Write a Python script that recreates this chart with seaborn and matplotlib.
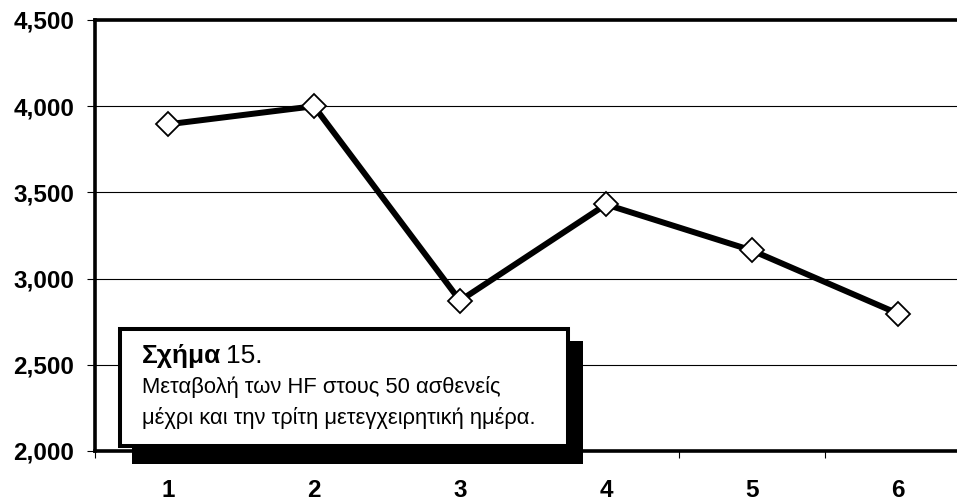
import matplotlib
matplotlib.use("Agg")
import matplotlib.pyplot as plt
import matplotlib.patches as mpatches
from matplotlib.ticker import FuncFormatter, FixedLocator
import seaborn as sns
import pandas as pd

# Postoperative HF measurements per time point
days = ["1", "2", "3", "4", "5", "6"]
hf_values = [3895, 4000, 2872, 3430, 3163, 2797]
y_ticks = [2000, 2500, 3000, 3500, 4000, 4500]

caption_title_bold = "Σχήμα"
caption_title_num = "15."
caption_lines = ["Μεταβολή των HF στους 50 ασθενείς",
                 "μέχρι και την τρίτη μετεγχειρητική ημέρα."]

sns.set_theme(style="white")
plt.rcParams["font.family"] = ["Liberation Sans", "DejaVu Sans"]

W, H = 957, 504
fig = plt.figure(figsize=(W / 100, H / 100), dpi=100)
fig.patch.set_facecolor("white")

# axes frame in pixels: left 95, top 20, bottom 451, right runs past the canvas
left_px, top_px, bottom_px, right_px = 95, 20, 451, 971
ax = fig.add_axes([left_px / W, 1 - bottom_px / H,
                   (right_px - left_px) / W, (bottom_px - top_px) / H])

df = pd.DataFrame({"pos": range(len(days)), "hf": hf_values})
sns.lineplot(data=df, x="pos", y="hf", ax=ax, color="black", linewidth=4.3,
             marker="D", markersize=12.5, markerfacecolor="white",
             markeredgecolor="black", markeredgewidth=1.3, zorder=3)

ax.set_xlim(-0.5, len(days) - 0.5)
ax.set_ylim(y_ticks[0], y_ticks[-1])
ax.set_xlabel("")
ax.set_ylabel("")

ax.yaxis.set_major_locator(FixedLocator(y_ticks))
ax.yaxis.set_major_formatter(FuncFormatter(lambda v, p: f"{int(v):,}"))
ax.set_xticks(range(len(days)))
ax.set_xticklabels(days)
ax.set_xticks([i - 0.5 for i in range(len(days) + 1)], minor=True)

ax.grid(axis="y", color="black", linewidth=0.8)
ax.grid(axis="x", visible=False)
ax.set_axisbelow(True)

ax.tick_params(axis="y", which="major", left=True, length=6, width=0.8,
               color="black", pad=9, labelsize=17.5, labelcolor="black")
ax.tick_params(axis="x", which="major", bottom=False, length=0, pad=20,
               labelsize=17.5, labelcolor="black")
ax.tick_params(axis="x", which="minor", bottom=True, length=5, width=0.8,
               color="black")
for lbl in ax.get_xticklabels() + ax.get_yticklabels():
    lbl.set_fontweight("bold")

for side in ["left", "top", "bottom"]:
    ax.spines[side].set_visible(True)
    ax.spines[side].set_color("black")
    ax.spines[side].set_linewidth(2.6)
ax.spines["right"].set_visible(False)


def fx(px):
    return px / W


def fy(py):
    return 1 - py / H


# caption box with drop shadow
shadow = mpatches.Rectangle((fx(132), fy(464)), fx(583) - fx(132), fy(341) - fy(464),
                            transform=fig.transFigure, facecolor="black",
                            edgecolor="none", zorder=10)
box = mpatches.Rectangle((fx(120), fy(446)), fx(568) - fx(120), fy(329) - fy(446),
                         transform=fig.transFigure, facecolor="white",
                         edgecolor="black", linewidth=2.9, zorder=11)
fig.patches.extend([shadow, box])

t1 = fig.text(fx(142), fy(363), caption_title_bold, fontsize=19, fontweight="bold",
              color="black", zorder=12, va="baseline", ha="left")
fig.canvas.draw()
bb = t1.get_window_extent()
fig.text(bb.x1 / W + fx(5), fy(363), caption_title_num, fontsize=19,
         color="black", zorder=12, va="baseline", ha="left")
fig.text(fx(142), fy(393), caption_lines[0], fontsize=15.8,
         color="black", zorder=12, va="baseline", ha="left")
fig.text(fx(142), fy(424), caption_lines[1], fontsize=15.8,
         color="black", zorder=12, va="baseline", ha="left")

fig.savefig("out.png", dpi=100, facecolor="white")
